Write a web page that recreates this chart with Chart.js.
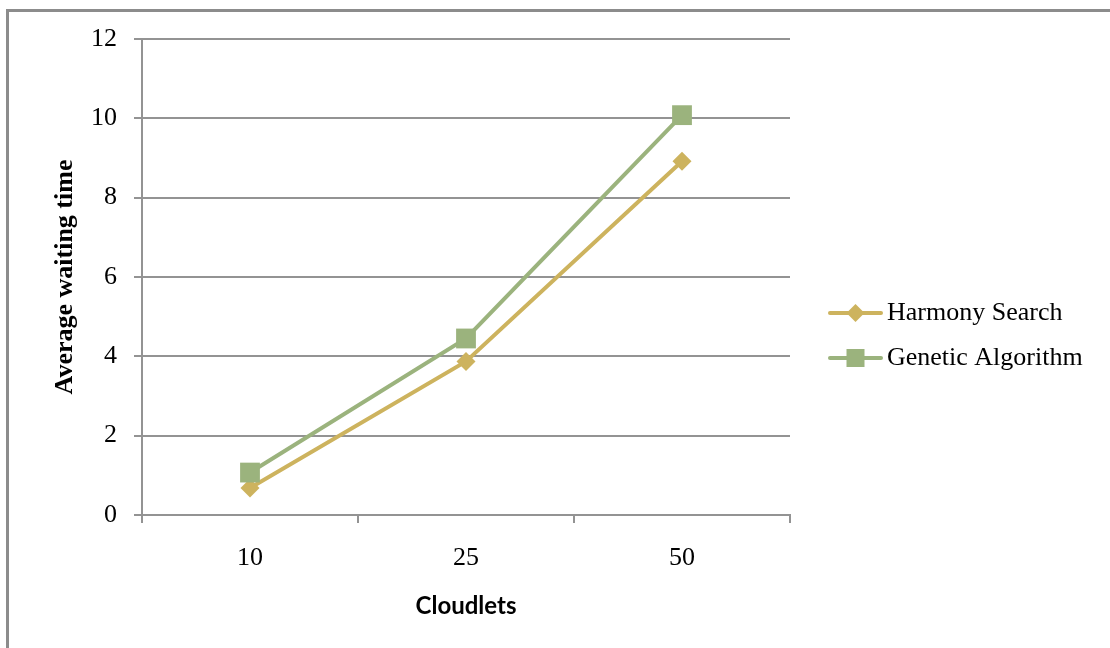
<!DOCTYPE html>
<html>
<head>
<meta charset="utf-8">
<script src="https://cdn.jsdelivr.net/npm/chart.js@4"></script>
<style>
  html, body { margin: 0; padding: 0; background: #fff; }
  canvas { display: block; }
</style>
</head>
<body>
<canvas id="c" width="1110" height="648"></canvas>
<script>
// Average waiting time per number of cloudlets
const categories = ['10', '25', '50'];
const harmonySearch = [0.68, 3.87, 8.92];
const geneticAlgorithm = [1.07, 4.45, 10.08];
const yTicks = [0, 2, 4, 6, 8, 10, 12];
const seriesNames = ['Harmony Search', 'Genetic Algorithm'];
const xTitle = 'Cloudlets';
const yTitle = 'Average waiting time';

const GOLD = '#CDB35E';
const SAGE = '#9BB37D';
const GRID = '#939393';
const SERIF = "'Liberation Serif', 'Times New Roman', serif";

// Legend symbol: a short line with the series marker in its middle
function legendSymbol(color, style) {
  const c = document.createElement('canvas');
  c.width = 83; c.height = 24;
  const g = c.getContext('2d');
  g.strokeStyle = color; g.lineWidth = 4; g.lineCap = 'round';
  g.beginPath(); g.moveTo(30, 12); g.lineTo(81, 12); g.stroke();
  g.fillStyle = color;
  const cx = 55.5, cy = 12;
  if (style === 'rectRot') {
    g.beginPath();
    g.moveTo(cx, cy - 9); g.lineTo(cx + 9, cy); g.lineTo(cx, cy + 9); g.lineTo(cx - 9, cy);
    g.closePath(); g.fill();
  } else {
    g.fillRect(cx - 9, cy - 9, 18, 18);
  }
  return c;
}

// Outer frame of the figure (left and top edges)
const framePlugin = {
  id: 'frame',
  beforeDraw(chart) {
    const ctx = chart.ctx;
    ctx.save();
    ctx.fillStyle = '#fff';
    ctx.fillRect(0, 0, chart.width, chart.height);
    ctx.strokeStyle = '#8c8c8c';
    ctx.lineWidth = 3;
    ctx.beginPath();
    ctx.moveTo(7.5, chart.height);
    ctx.lineTo(7.5, 10.5);
    ctx.lineTo(chart.width, 10.5);
    ctx.stroke();
    ctx.restore();
  }
};

const datasets = [
  {
    label: seriesNames[0],
    data: harmonySearch,
    borderColor: GOLD,
    backgroundColor: GOLD,
    borderWidth: 4,
    pointStyle: 'rectRot',
    pointRadius: 9.5,
    pointHoverRadius: 9.5,
    pointBorderWidth: 0,
    pointBackgroundColor: GOLD,
    tension: 0,
    order: 2
  },
  {
    label: seriesNames[1],
    data: geneticAlgorithm,
    borderColor: SAGE,
    backgroundColor: SAGE,
    borderWidth: 4,
    pointStyle: 'rect',
    pointRadius: 14,
    pointHoverRadius: 14,
    pointBorderWidth: 0,
    pointBackgroundColor: SAGE,
    tension: 0,
    order: 1
  }
];

const chart = new Chart(document.getElementById('c'), {
  type: 'line',
  data: { labels: categories, datasets },
  plugins: [framePlugin],
  options: {
    responsive: false,
    animation: false,
    events: [],
    layout: { padding: { left: 20, top: 39, right: 22, bottom: 16 } },
    plugins: {
      tooltip: { enabled: false },
      legend: {
        position: 'right',
        align: 'center',
        maxWidth: 420,
        labels: {
          usePointStyle: true,
          pointStyleWidth: 65,
          padding: 19,
          color: '#000',
          font: { family: SERIF, size: 26 },
          generateLabels(ch) {
            return ch.data.datasets.map((ds, i) => ({
              text: ds.label,
              datasetIndex: i,
              hidden: false,
              fillStyle: ds.borderColor,
              strokeStyle: ds.borderColor,
              lineWidth: 0,
              fontColor: '#000',
              pointStyle: legendSymbol(ds.borderColor, ds.pointStyle)
            }));
          }
        }
      }
    },
    scales: {
      x: {
        type: 'category',
        offset: true,
        grid: { offset: true, drawOnChartArea: false, drawTicks: true, tickLength: 8, color: GRID, lineWidth: 2 },
        border: { color: GRID, width: 2 },
        ticks: { color: '#000', font: { family: SERIF, size: 26 }, padding: 20, maxRotation: 0 },
        title: {
          display: true, text: xTitle, color: '#000',
          font: { family: 'Lato', weight: 'bold', size: 24 },
          padding: { top: 0, bottom: 11 }
        },
        afterFit(s) { s.height = 117; }
      },
      y: {
        min: 0,
        max: 12,
        afterBuildTicks(s) { s.ticks = yTicks.map(v => ({ value: v })); },
        grid: { color: GRID, lineWidth: 2, tickLength: 8, drawTicks: true },
        border: { color: GRID, width: 2 },
        ticks: { color: '#000', font: { family: SERIF, size: 26 }, padding: 17 },
        title: {
          display: true, text: yTitle, color: '#000',
          font: { family: SERIF, weight: 'bold', size: 26 },
          padding: { top: 30, bottom: 0 }
        },
        afterFit(s) { s.width = 122; }
      }
    }
  }
});

// Keep the plot's right edge where the legend column begins
const shift = chart.chartArea.right - 790;
if (Math.abs(shift) > 0.5) {
  chart.options.layout.padding.right += shift;
  chart.update();
}
</script>
</body>
</html>
